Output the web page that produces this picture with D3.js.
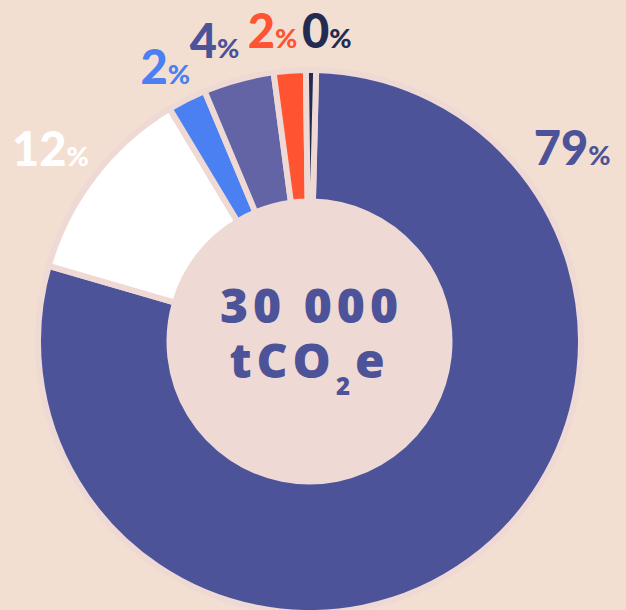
<!DOCTYPE html>
<html>
<head>
<meta charset="utf-8">
<script src="https://cdn.jsdelivr.net/npm/d3@7"></script>
<style>
  html, body { margin: 0; padding: 0; background: #f3dfd2; }
  #container { width: 626px; height: 610px; overflow: hidden; }
</style>
</head>
<body>
<div id="container"></div>
<script>
/* CONSTANTS AND GLOBALS */
const width = 626;
const height = 610;
const cx = 309.5, cy = 341.5;
const outerR = 271.5;
const innerR = 140;

/* DATA */
const categories = ["a", "b", "c", "d", "e", "f"];
const shares = [79.1, 11.9, 2.3, 4.2, 1.9, 0.6];
const labels = ["79", "12", "2", "4", "2", "0"];
const colors = ["#4d5398", "#ffffff", "#4a80f2", "#6264a6", "#ff5331", "#232b52"];
const labelColors = ["#4d5398", "#ffffff", "#4a80f2", "#4d5398", "#ff5331", "#232b52"];
// label placement (angle in degrees from 12 o'clock, distance from centre)
const labelAngle = [53.7, -53.6, -27.8, -17.6, -6.8, 3.2];
const labelDist = [326, 322, 309, 314, 312, 310];

const data = categories.map((c, i) => ({ cat: c, value: shares[i], label: labels[i] }));

/* HTML ELEMENTS */
const svg = d3.select("#container")
  .append("svg")
  .attr("width", width)
  .attr("height", height)

svg.append("rect")
  .attr("width", width)
  .attr("height", height)
  .attr("fill", "#f3dfd2")

const g = svg.append("g")
  .attr("transform", `translate(${cx},${cy})`)

// inner disc
g.append("circle")
  .attr("r", innerR + 3)
  .attr("fill", "#efd9d5")

/* PIE */
const start = 1.4 * Math.PI / 180;
const pie = d3.pie()
  .value(d => d.value)
  .sort(null)
  .startAngle(start)
  .endAngle(start + 2 * Math.PI)

const arc = d3.arc()
  .innerRadius(innerR)
  .outerRadius(outerR)

g.selectAll("path.slice")
  .data(pie(data))
  .join("path")
  .attr("class", "slice")
  .attr("d", arc)
  .attr("fill", (d, i) => colors[i])
  .attr("stroke", "#efd9d5")
  .attr("stroke-width", 6)
  .attr("stroke-linejoin", "miter")

// percentage labels
const lbl = g.selectAll("text.pct")
  .data(data)
  .join("text")
  .attr("class", "pct")
  .attr("x", (d, i) => labelDist[i] * Math.sin(labelAngle[i] * Math.PI / 180))
  .attr("y", (d, i) => -labelDist[i] * Math.cos(labelAngle[i] * Math.PI / 180) + 16)
  .attr("text-anchor", "middle")
  .attr("fill", (d, i) => labelColors[i])
  .style("font-family", "Lato, sans-serif")
  .style("font-weight", 900)

lbl.append("tspan")
  .style("font-size", "47px")
  .text(d => d.label)
lbl.append("tspan")
  .style("font-size", "27px")
  .text("%")

// centre total, one text with two lines
const center = g.append("text")
  .attr("text-anchor", "middle")
  .attr("fill", "#4d5398")
  .style("font-family", "'Open Sans', sans-serif")
  .style("font-weight", 800)
  .style("font-size", "48px")
  .style("letter-spacing", "5px")

center.append("tspan")
  .attr("x", 2)
  .attr("y", -19)
  .text("30 000")

center.append("tspan")
  .attr("x", 0)
  .attr("y", 36)
  .text("tCO")
center.append("tspan")
  .attr("dy", 17)
  .style("font-size", "24px")
  .text("2")
center.append("tspan")
  .attr("dy", -17)
  .text("e")
</script>
</body>
</html>
